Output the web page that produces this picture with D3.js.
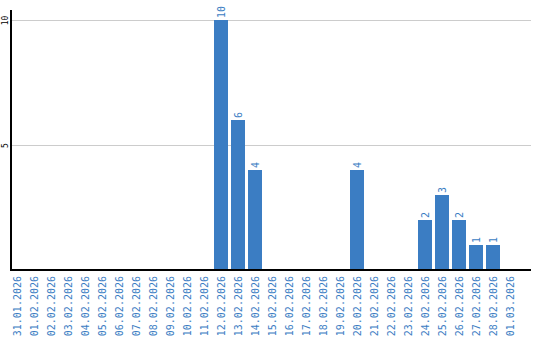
<!DOCTYPE html>
<html>
<head>
<meta charset="utf-8">
<script src="https://cdn.jsdelivr.net/npm/d3@7"></script>
<style>
  body { margin: 0; background: #fff; }
  text { font-family: "DejaVu Sans Mono", monospace; }
</style>
</head>
<body>
<div id="plot"></div>
<script>
// categories (days) and counts
var days = ["31.01.2026","01.02.2026","02.02.2026","03.02.2026","04.02.2026","05.02.2026","06.02.2026",
    "07.02.2026","08.02.2026","09.02.2026","10.02.2026","11.02.2026","12.02.2026","13.02.2026","14.02.2026",
    "15.02.2026","16.02.2026","17.02.2026","18.02.2026","19.02.2026","20.02.2026","21.02.2026","22.02.2026",
    "23.02.2026","24.02.2026","25.02.2026","26.02.2026","27.02.2026","28.02.2026","01.03.2026"];
var counts = [0,0,0,0,0,0,0,0,0,0,0,0,10,6,4,0,0,0,0,0,4,0,0,0,2,3,2,1,1,0];
var yTicks = [5, 10];

var blue = "#3b7dc3";
var font = "DejaVu Sans Mono, monospace";

var svg = d3.select("#plot").append("svg")
    .attr("width", 540)
    .attr("height", 340);

var scaleX = d3.scaleBand().domain(days).range([8.5, 518.5])
    .paddingInner(3 / 17).paddingOuter(1.5 / 17);
var scaleY = d3.scaleLinear().domain([0, 10]).range([270, 20]);

// grid lines
var grid = d3.axisLeft(scaleY).tickValues(yTicks).tickSizeInner(-520).tickSizeOuter(0).tickFormat("");
svg.append("g").attr("class", "grid").attr("transform", "translate(11,0)").call(grid)
    .call(function(g) {
        g.select(".domain").remove();
        g.selectAll("line").attr("stroke", "#cccccc").attr("stroke-width", 1);
    });

// bars
svg.append("g").selectAll("rect")
    .data(counts)
    .enter().append("rect")
    .attr("x", function(d, i) { return scaleX(days[i]); })
    .attr("y", function(d) { return scaleY(d); })
    .attr("width", scaleX.bandwidth())
    .attr("height", function(d) { return scaleY(0) - scaleY(d); })
    .style("fill", blue);

// value labels
svg.append("g").selectAll("text")
    .data(counts.map(function(v, i) { return {day: days[i], v: v}; }).filter(function(d) { return d.v > 0; }))
    .enter().append("text")
    .attr("transform", function(d) {
        return "translate(" + (scaleX(d.day) + scaleX.bandwidth() / 2 + 4) + "," + (scaleY(d.v) - 2) + ") rotate(-90)";
    })
    .attr("font-family", font)
    .attr("font-size", 10)
    .attr("fill", blue)
    .text(function(d) { return d.v; });

// x axis
var axisX = d3.axisBottom(scaleX).tickSize(0).tickPadding(0);
svg.append("g").attr("transform", "translate(0,270)").call(axisX)
    .call(function(g) {
        g.select(".domain").remove();
        g.selectAll("text")
            .attr("font-family", font)
            .attr("font-size", 10)
            .attr("fill", blue)
            .attr("text-anchor", "end")
            .attr("dy", null)
            .attr("y", 0)
            .attr("transform", "translate(4,6) rotate(-90)");
    });

// y axis labels
var axisY = d3.axisLeft(scaleY).tickValues(yTicks).tickSize(0).tickPadding(0);
svg.append("g").call(axisY)
    .call(function(g) {
        g.select(".domain").remove();
        g.selectAll("text")
            .attr("font-family", font)
            .attr("font-size", 8)
            .attr("fill", "#000")
            .attr("text-anchor", "middle")
            .attr("x", 0)
            .attr("dy", null)
            .attr("transform", "translate(7.5,0) rotate(-90)");
    });

// axis lines
svg.append("line").attr("x1", 11).attr("x2", 11).attr("y1", 10).attr("y2", 271)
    .attr("stroke", "#000").attr("stroke-width", 2);
svg.append("line").attr("x1", 10).attr("x2", 531).attr("y1", 270).attr("y2", 270)
    .attr("stroke", "#000").attr("stroke-width", 2);
</script>
</body>
</html>
